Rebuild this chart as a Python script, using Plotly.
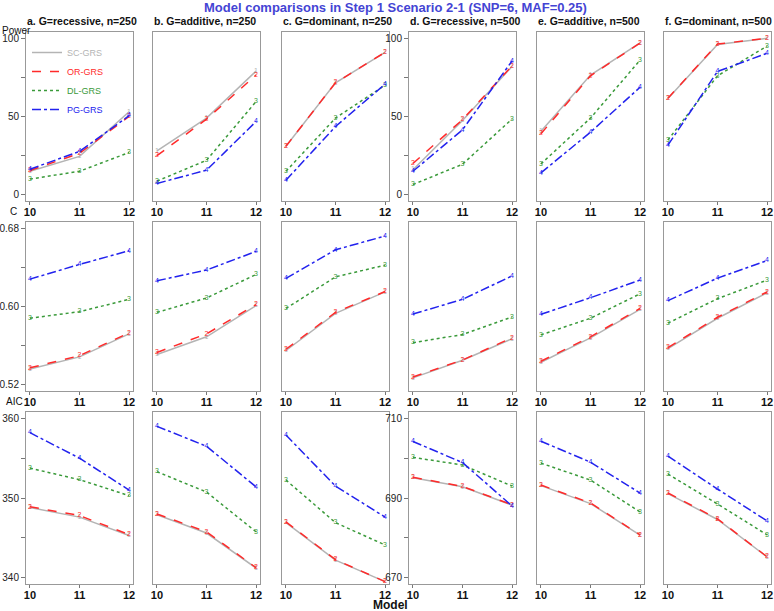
import plotly.graph_objects as go
from plotly.subplots import make_subplots

models = [10, 11, 12]
panel_titles = ["a. G=recessive, n=250", "b. G=additive, n=250", "c. G=dominant, n=250",
                "d. G=recessive, n=500", "e. G=additive, n=500", "f. G=dominant, n=500"]
methods = ["SC-GRS", "OR-GRS", "DL-GRS", "PG-GRS"]

# power (%), one triple per panel a..f
power_sc = [[15, 24.5, 53], [28, 49, 79], [31, 71.5, 91], [16, 47.5, 82], [40.5, 76.5, 97], [61.5, 96, 100]]
power_or = [[15.5, 26.5, 50], [25, 48.3, 76.5], [31, 71.6, 91], [20, 48, 82.4], [39, 76, 97], [61.7, 96.3, 100]]
power_dl = [[10, 15, 27], [8.7, 22, 59.5], [15, 49, 70], [6.5, 19.5, 48.4], [19.7, 49, 86], [35, 76, 95]]
power_pg = [[16.3, 27.7, 50.5], [7.2, 15.7, 46.8], [9.3, 43.6, 70.7], [15, 41.5, 85.5], [14, 40, 68.7], [31.7, 78.8, 90.4]]

# C statistic
c_sc = [[0.536, 0.5485, 0.572], [0.551, 0.569, 0.601], [0.555, 0.593, 0.615],
        [0.527, 0.545, 0.567], [0.543, 0.568, 0.597], [0.557, 0.588, 0.614]]
c_or = [[0.5373, 0.5497, 0.573], [0.553, 0.572, 0.602], [0.5563, 0.594, 0.6153],
        [0.528, 0.5453, 0.568], [0.544, 0.569, 0.598], [0.558, 0.589, 0.615]]
c_dl = [[0.588, 0.5947, 0.6073], [0.594, 0.6087, 0.6327], [0.598, 0.6303, 0.6423],
        [0.563, 0.5713, 0.5893], [0.571, 0.588, 0.613], [0.583, 0.608, 0.627]]
c_pg = [[0.628, 0.643, 0.657], [0.6263, 0.6373, 0.6563], [0.6287, 0.658, 0.672],
        [0.5923, 0.6073, 0.6313], [0.592, 0.609, 0.627], [0.606, 0.629, 0.647]]

# AIC
aic_sc = [[348.8, 347.6, 345.3], [347.9, 345.6, 341.2], [346.9, 342.2, 339.5],
          [695.1, 692.8, 688.2], [693.1, 688.6, 680.7], [691.1, 684.6, 675.2]]
aic_or = [[348.9, 347.8, 345.4], [348, 345.75, 341.25], [347, 342.25, 339.5],
          [695.2, 692.9, 688.3], [693.25, 688.75, 680.75], [691.25, 684.75, 675.25]]
aic_dl = [[353.75, 352.3, 350.3], [353.3, 350.75, 345.75], [352.25, 346.9, 344.1],
          [700.2, 698.3, 693], [698.75, 694.5, 686.5], [696, 688.5, 680.75]]
aic_pg = [[358.2, 355, 351], [359, 356.5, 351.4], [357.9, 351.5, 347.6],
          [704.2, 698.9, 688], [704.25, 699, 691.25], [700.5, 692.25, 684.25]]

colors = ["#b4b4b4", "#ff2a2a", "#3a9a3a", "#2222ee"]
dashes = ["solid", "dash", "dot", "dashdot"]
digits = ["1", "2", "3", "4"]

W, H = 774, 611
col_left = [26, 153, 282, 409, 537, 664]
col_w = 107
row_px = [(32, 201), (222, 391), (412, 584)]


def px_x(p):
    return p / W


def px_y(p):
    return 1 - p / H


rows_data = [
    [power_sc, power_or, power_dl, power_pg],
    [c_sc, c_or, c_dl, c_pg],
    [aic_sc, aic_or, aic_dl, aic_pg],
]

fig = make_subplots(rows=3, cols=6)

for r, series in enumerate(rows_data, start=1):
    for c in range(6):
        for k in range(4):
            show = (r == 1 and c == 0)
            name = f"<span style='color:{colors[k]}'>{methods[k]}</span>"
            fig.add_trace(go.Scatter(
                x=models, y=series[k][c], mode="lines", name=name,
                line=dict(color=colors[k], dash=dashes[k], width=1.5),
                showlegend=show, hoverinfo="skip"), row=r, col=c + 1)
            fig.add_trace(go.Scatter(
                x=models, y=series[k][c], mode="text", text=[digits[k]] * 3,
                textfont=dict(color=colors[k], size=7), showlegend=False,
                hoverinfo="skip"), row=r, col=c + 1)

axis_font = dict(family="Arial, Liberation Sans", size=10, color="#222")
for r in range(1, 4):
    top, bot = row_px[r - 1]
    for c in range(1, 7):
        left = col_left[c - 1]
        fig.update_xaxes(
            domain=[px_x(left), px_x(left + col_w)], range=[9.92, 12.08],
            tickvals=models, ticktext=[f"<b>{m}</b>" for m in models],
            tickfont=dict(family="Arial, Liberation Sans", size=11, color="#111"),
            ticks="outside", ticklen=3, tickcolor="#777", automargin=False,
            ticklabelstandoff=-2, ticklabeloverflow="allow",
            showline=True, mirror=True, linecolor="#999", linewidth=1,
            showgrid=False, zeroline=False, row=r, col=c)
        if r == 1:
            rng = [-4, 104]
            tv, tt = [0, 25, 50, 75, 100], ["0", "", "50", "", "100"]
        elif r == 2:
            rng = [0.5136, 0.6864]
            tv, tt = [0.52, 0.56, 0.60, 0.64, 0.68], ["0.52", "", "0.60", "", "0.68"]
        elif c <= 3:
            rng = [339.2, 360.8]
            tv, tt = [340, 345, 350, 355, 360], ["340", "", "350", "", "360"]
        else:
            rng = [668.4, 711.6]
            tv, tt = [670, 680, 690, 700, 710], ["670", "", "690", "", "710"]
        show_ticks = (c == 1) or (c == 4 and r != 2)
        fig.update_yaxes(
            domain=[px_y(bot), px_y(top)], range=rng,
            tickvals=tv, ticktext=tt, showticklabels=show_ticks,
            ticks="outside" if show_ticks else "", ticklen=4, tickcolor="#777",
            tickfont=axis_font, automargin=False, ticklabeloverflow="allow",
            showline=True, mirror=True, linecolor="#999", linewidth=1,
            showgrid=False, zeroline=False, row=r, col=c)

annotations = [dict(text="<b>Model comparisons in Step 1 Scenario 2-1 (SNP=6, MAF=0.25)</b>",
                    x=px_x(395), y=px_y(8), xref="paper", yref="paper", showarrow=False,
                    xanchor="center", yanchor="middle",
                    font=dict(family="Arial, Liberation Sans", size=13, color="#4444d4"))]
for c, t in enumerate(panel_titles):
    annotations.append(dict(text=f"<b>{t}</b>", x=px_x(col_left[c] - 1), y=px_y(21),
                            xref="paper", yref="paper", showarrow=False,
                            xanchor="left", yanchor="middle",
                            font=dict(family="Arial, Liberation Sans", size=10.5, color="#111")))
for lab, px, py in [("Power", 0, 30), ("C", 8, 212), ("AIC", 4, 401)]:
    annotations.append(dict(text=lab, x=px_x(px), y=px_y(py), xref="paper", yref="paper",
                            showarrow=False, xanchor="left", yanchor="middle",
                            font=dict(family="Arial, Liberation Sans", size=10, color="#111")))
annotations.append(dict(text="<b>Model</b>", x=px_x(390), y=px_y(605), xref="paper", yref="paper",
                        showarrow=False, xanchor="center", yanchor="middle",
                        font=dict(family="Arial, Liberation Sans", size=12, color="#111")))

fig.update_layout(
    width=W, height=H, margin=dict(l=0, r=0, t=0, b=0, autoexpand=False),
    paper_bgcolor="white", plot_bgcolor="white",
    annotations=annotations,
    legend=dict(x=px_x(27), y=px_y(38), xanchor="left", yanchor="top",
                bgcolor="rgba(0,0,0,0)", font=dict(family="Arial, Liberation Sans", size=9),
                tracegroupgap=0, itemwidth=30),
    font=dict(family="Arial, Liberation Sans"),
)

# drop the browser's default 8px body margin so the figure sits at the page origin
fig.write_html("out.html", config={"displayModeBar": False},
               post_script="document.body.style.margin='0';")
